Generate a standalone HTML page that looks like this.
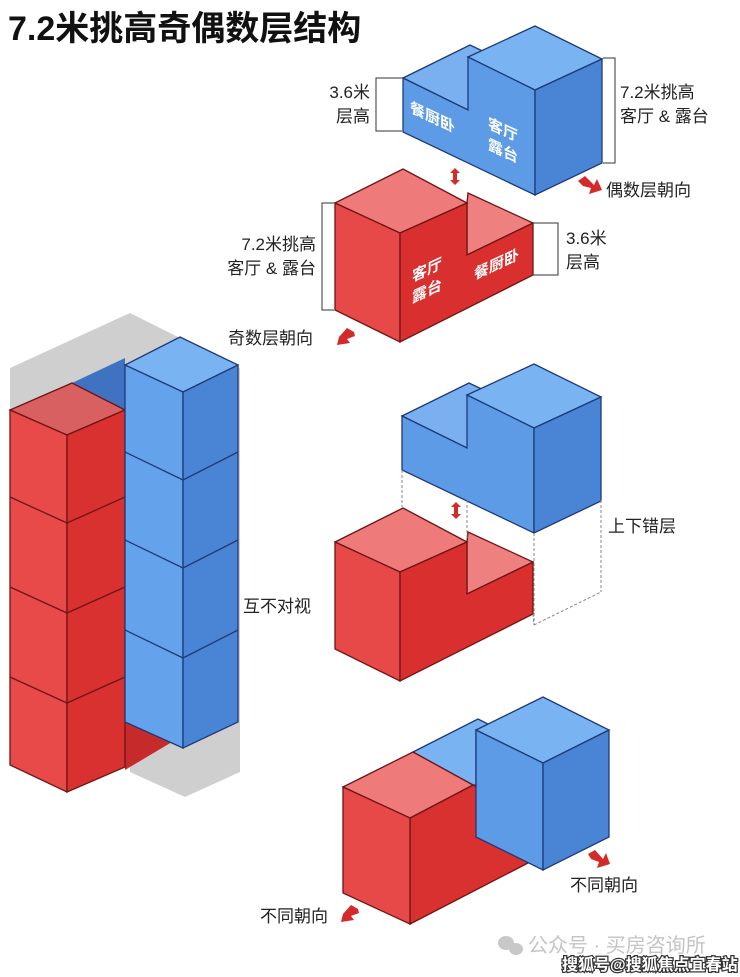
<!DOCTYPE html>
<html><head><meta charset="utf-8"><style>
html,body{margin:0;padding:0;background:#fff;}
svg{display:block;}
text{font-family:"Liberation Sans","Noto Sans CJK SC",sans-serif;}
</style></head><body>
<svg width="740" height="977" viewBox="0 0 740 977" xmlns="http://www.w3.org/2000/svg">
<defs>
<g id="blueL">
  <polygon points="403,78 470,45 537,77 468,110" fill="#7ab0ef" stroke="#1d3a78" stroke-width="1.3"/>
  <polygon points="468,57 535,26 602,59 535,90" fill="#7ab3f2" stroke="#1d3a78" stroke-width="1.3"/>
  <polygon points="403,78 468,110 468,57 535,90 535,195 403,132" fill="#5d9be6" stroke="#1d3a78" stroke-width="1.3"/>
  <polygon points="535,90 602,59 602,163 535,195" fill="#4a84d4" stroke="#1d3a78" stroke-width="1.3"/>
</g>
<g id="redL">
  <polygon points="467,203 468,193 533,223 467,255" fill="#ee8080" stroke="#6e1515" stroke-width="1.3"/>
  <polygon points="335,203 403,169 467,203 400,233" fill="#ee7a7a" stroke="#6e1515" stroke-width="1.3"/>
  <polygon points="335,203 400,233 400,342 335,310" fill="#e74848" stroke="#6e1515" stroke-width="1.3"/>
  <polygon points="400,233 467,203 467,255 533,223 533,275 400,342" fill="#d9302f" stroke="#6e1515" stroke-width="1.3"/>
</g>
</defs>

<text x="8" y="40" font-size="34" font-weight="bold" fill="#111">7.2米挑高奇偶数层结构</text>

<use href="#blueL"/>
<use href="#redL"/>
<g fill="#fff" font-weight="bold" font-size="15">
  <text transform="translate(410,112) skewY(25)">餐厨卧</text>
  <text transform="translate(488,128) skewY(25)">客厅</text>
  <text transform="translate(488,149) skewY(25)">露台</text>
  <text transform="translate(412,282) skewY(-25)">客厅</text>
  <text transform="translate(412,303) skewY(-25)">露台</text>
  <text transform="translate(474,280) skewY(-25)">餐厨卧</text>
</g>
<g fill="none" stroke="#333" stroke-width="1">
  <polyline points="402,78 376,78 376,131 402,131"/>
  <polyline points="603,58 615,58 615,163 603,163"/>
  <polyline points="334,203 322,203 322,310 334,310"/>
  <polyline points="533,223 558,223 558,275 533,275"/>
</g>
<g font-size="17" fill="#222">
  <text x="370" y="98" text-anchor="end">3.6米</text>
  <text x="370" y="122" text-anchor="end">层高</text>
  <text x="620" y="98">7.2米挑高</text>
  <text x="620" y="122">客厅 &amp; 露台</text>
  <text x="606" y="196">偶数层朝向</text>
  <text x="316" y="250" text-anchor="end">7.2米挑高</text>
  <text x="316" y="274" text-anchor="end">客厅 &amp; 露台</text>
  <text x="566" y="244">3.6米</text>
  <text x="566" y="268">层高</text>
  <text x="228" y="344">奇数层朝向</text>
  <text x="608" y="532">上下错层</text>
  <text x="243" y="612">互不对视</text>
  <text x="570" y="891">不同朝向</text>
  <text x="260" y="922">不同朝向</text>
</g>
<g fill="#d42a2a">
  <polygon points="578,181 585,176 594,185 597,179 602,190 589,194 591,188 583,186"/>
  <polygon points="354,332 347,328 339,337 337,345 350,343 347,339 355,336"/>
  <polygon points="588,854 595,850 603,859 606,853 610,864 597,868 599,862 591,859"/>
  <polygon points="358,909 351,905 343,914 341,922 354,920 351,916 359,913"/>
  <path d="M455,168 l5,5 h-3 v7 h3 l-5,5 l-5,-5 h3 v-7 h-3 z"/>
  <path d="M456,502 l5,5 h-3 v7 h3 l-5,5 l-5,-5 h3 v-7 h-3 z"/>
</g>

<!-- LEFT TOWER -->
<polygon points="10,368 130,313 240,368 240,772 185,797 130,772 130,745 10,745" fill="#cfcfcf"/>
<polygon points="72,383 125,358 125,410" fill="#3f72c0"/>
<polygon points="125,718 172,742 125,770" fill="#c62a2a"/>
<polygon points="10,410 72,383 125,410 67,435" fill="#d96060" stroke="#6e1515" stroke-width="1.3"/>
<polygon points="10,410 67,435 67,792 10,765" fill="#e84a4a" stroke="#6e1515" stroke-width="1.3"/>
<polygon points="67,435 125,410 125,767 67,792" fill="#d93030" stroke="#6e1515" stroke-width="1.3"/>
<g stroke="#6e1515" stroke-width="1.3" fill="none">
  <polyline points="10,497 67,523 125,497"/>
  <polyline points="10,587 67,613 125,587"/>
  <polyline points="10,677 67,703 125,677"/>
</g>
<polygon points="125,365 180,337 238,365 183,392" fill="#7ab3f2" stroke="#1d3a78" stroke-width="1.3"/>
<polygon points="125,365 183,392 183,748 125,722" fill="#64a2ec" stroke="#1d3a78" stroke-width="1.3"/>
<polygon points="183,392 238,365 238,722 183,748" fill="#4a84d4" stroke="#1d3a78" stroke-width="1.3"/>
<g stroke="#1d3a78" stroke-width="1.3" fill="none">
  <polyline points="125,452 183,480 238,452"/>
  <polyline points="125,540 183,568 238,540"/>
  <polyline points="125,630 183,658 238,630"/>
</g>

<!-- MIDDLE SECTION -->
<use href="#blueL" transform="translate(-1,338)"/>
<use href="#redL" transform="translate(0,339)"/>
<g stroke="#888" stroke-width="1" stroke-dasharray="3,2" fill="none">
  <line x1="402" y1="470" x2="402" y2="507"/>
  <line x1="467" y1="500" x2="467" y2="540"/>
  <line x1="534" y1="533" x2="534" y2="625"/>
  <line x1="601" y1="500" x2="601" y2="592"/>
  <line x1="534" y1="625" x2="601" y2="592"/>
  <line x1="533" y1="614" x2="534" y2="625"/>
</g>

<!-- BOTTOM SECTION -->
<polygon points="413,752 478,719 492,726 476,732 476,785 473,785" fill="#7ab3f2" stroke="#1d3a78" stroke-width="1.3"/>
<polygon points="410,818 473,785 545,822 528,863 410,924" fill="#d93030" stroke="#6e1515" stroke-width="1.3"/>
<polygon points="343,787 413,752 473,785 410,818" fill="#ee7a7a" stroke="#6e1515" stroke-width="1.3"/>
<polygon points="343,787 410,818 410,924 343,893" fill="#e74848" stroke="#6e1515" stroke-width="1.3"/>
<polygon points="476,730 543,697 609,730 543,763" fill="#7ab3f2" stroke="#1d3a78" stroke-width="1.3"/>
<polygon points="476,730 543,763 543,870 476,837" fill="#5d9be6" stroke="#1d3a78" stroke-width="1.3"/>
<polygon points="543,763 609,730 609,837 543,870" fill="#4a84d4" stroke="#1d3a78" stroke-width="1.3"/>

<g fill="#c8c8c8">
  <ellipse cx="506" cy="943" rx="8" ry="7"/>
  <ellipse cx="516" cy="949" rx="7" ry="6"/>
</g>
<text x="528" y="952" font-size="20" fill="#c4c4c4">公众号 · 买房咨询所</text>
<text x="562" y="970" font-size="16" font-weight="bold" fill="#fff" stroke="#333" stroke-width="2.5" paint-order="stroke">搜狐号@搜狐焦点宜春站</text>
</svg>
</body></html>
